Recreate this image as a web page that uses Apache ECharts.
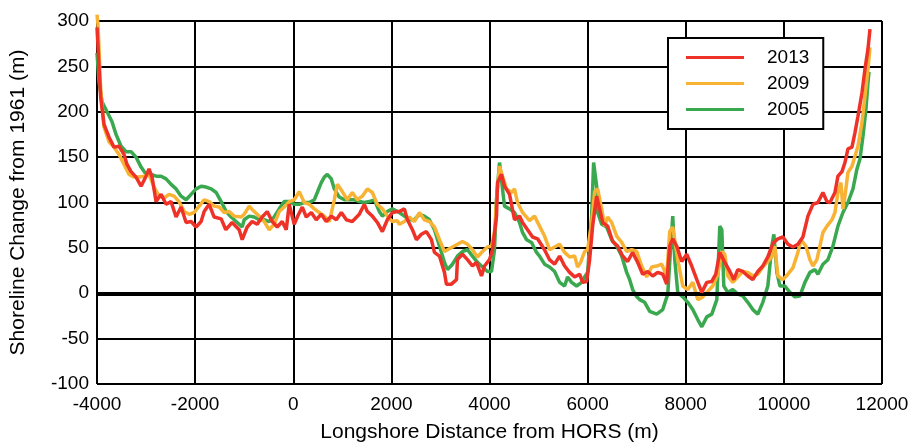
<!DOCTYPE html>
<html>
<head>
<meta charset="utf-8">
<script src="https://cdn.jsdelivr.net/npm/echarts@6/dist/echarts.min.js"></script>
<style>html,body{margin:0;padding:0;background:#fff;}#c{width:921px;height:448px;}</style>
</head>
<body>
<div id="c"></div>
<script>
var xTicks = [-4000, -2000, 0, 2000, 4000, 6000, 8000, 10000, 12000];
var yTicks = [-100, -50, 0, 50, 100, 150, 200, 250, 300];
var seriesNames = ['2013', '2009', '2005'];

var data2013 = [[-4000,293],[-3925,216],[-3857,186],[-3755,172],[-3653,161],[-3551,162],[-3449,153],[-3388,142],[-3306,134],[-3204,128],[-3102,118],[-3000,129],[-2939,137],[-2878,128],[-2796,101],[-2694,109],[-2592,98],[-2490,101],[-2388,84],[-2286,95],[-2184,78],[-2082,79],[-1980,73],[-1878,79],[-1816,90],[-1714,98],[-1612,84],[-1469,82],[-1374,70],[-1245,78],[-1102,70],[-1041,59],[-939,73],[-837,79],[-735,76],[-633,84],[-531,90],[-429,79],[-327,73],[-225,79],[-143,70],[-82,98],[20,76],[82,84],[184,95],[265,84],[367,89],[469,81],[571,87],[673,79],[776,85],[878,81],[980,89],[1082,81],[1204,79],[1347,87],[1449,98],[1510,90],[1612,85],[1714,78],[1816,68],[1918,81],[2020,89],[2122,90],[2163,90],[2265,93],[2327,81],[2429,70],[2510,59],[2612,65],[2714,68],[2816,59],[2878,45],[2980,41],[3082,23],[3122,10],[3224,10],[3327,15],[3347,37],[3449,43],[3551,37],[3653,30],[3735,34],[3837,19],[3898,30],[4000,37],[4061,48],[4143,85],[4163,122],[4245,131],[4306,118],[4408,109],[4510,81],[4612,85],[4673,78],[4776,70],[4878,62],[4980,60],[5020,62],[5122,48],[5224,37],[5327,32],[5429,41],[5531,30],[5633,23],[5735,18],[5837,21],[5898,12],[5980,13],[6041,37],[6102,74],[6184,107],[6245,93],[6306,78],[6408,74],[6510,57],[6612,52],[6714,41],[6816,35],[6918,45],[7020,34],[7122,21],[7224,24],[7327,19],[7429,23],[7531,21],[7612,10],[7673,52],[7735,60],[7816,52],[7918,35],[8020,43],[8122,30],[8225,15],[8327,1],[8429,12],[8531,13],[8612,21],[8694,45],[8796,34],[8898,24],[8980,15],[9061,26],[9163,24],[9265,19],[9367,15],[9469,24],[9571,30],[9673,40],[9776,55],[9878,60],[9980,62],[10082,54],[10184,51],[10286,54],[10388,62],[10490,85],[10592,98],[10694,100],[10796,111],[10878,101],[10939,100],[11041,111],[11102,129],[11184,134],[11245,144],[11306,159],[11388,161],[11449,177],[11510,195],[11592,221],[11653,247],[11714,269],[11755,291]];

var data2009 = [[-4000,307],[-3980,296],[-3925,225],[-3857,183],[-3755,167],[-3653,161],[-3551,153],[-3449,142],[-3347,131],[-3245,128],[-3143,128],[-3041,129],[-2939,131],[-2837,117],[-2735,107],[-2633,105],[-2531,109],[-2429,107],[-2327,101],[-2224,90],[-2122,87],[-2020,89],[-1918,96],[-1816,103],[-1714,101],[-1612,96],[-1510,95],[-1408,89],[-1306,90],[-1204,85],[-1061,84],[-1000,87],[-898,96],[-796,90],[-694,85],[-592,79],[-490,70],[-388,76],[-286,90],[-184,95],[-82,101],[20,103],[122,112],[224,100],[327,98],[429,93],[531,89],[633,85],[735,79],[837,103],[898,120],[1000,112],[1102,103],[1204,111],[1306,103],[1408,107],[1510,115],[1612,111],[1714,98],[1816,93],[1918,85],[2020,79],[2122,80],[2163,76],[2265,79],[2367,84],[2469,79],[2571,89],[2673,81],[2776,79],[2878,73],[2980,59],[3082,46],[3143,48],[3245,51],[3347,54],[3449,57],[3551,54],[3653,48],[3755,40],[3857,46],[3959,51],[4041,52],[4102,67],[4143,103],[4204,140],[4265,129],[4347,115],[4449,111],[4510,115],[4571,100],[4673,89],[4816,80],[4918,85],[5020,74],[5122,63],[5224,48],[5327,51],[5429,54],[5531,45],[5633,40],[5735,41],[5796,29],[5857,34],[5939,46],[6000,48],[6082,78],[6143,112],[6204,115],[6286,93],[6347,74],[6408,84],[6490,78],[6592,63],[6694,56],[6796,46],[6898,48],[7000,46],[7102,30],[7204,18],[7306,29],[7408,30],[7510,32],[7612,19],[7673,68],[7735,73],[7837,37],[7939,8],[8041,4],[8143,12],[8245,-7],[8347,-4],[8449,2],[8551,8],[8653,21],[8735,46],[8796,43],[8857,19],[8959,12],[9061,18],[9163,24],[9265,23],[9367,19],[9469,21],[9571,29],[9673,35],[9755,40],[9816,52],[9878,19],[9980,15],[10082,21],[10184,28],[10286,45],[10349,59],[10449,52],[10531,37],[10592,30],[10673,37],[10735,52],[10796,67],[10878,74],[10980,81],[11041,89],[11102,111],[11163,122],[11204,93],[11245,107],[11306,133],[11388,140],[11449,151],[11510,162],[11592,188],[11653,217],[11714,247],[11755,271]];

var data2005 = [[-4000,265],[-3959,233],[-3898,211],[-3796,200],[-3694,189],[-3612,175],[-3510,162],[-3408,156],[-3306,156],[-3204,150],[-3102,139],[-3000,131],[-2898,131],[-2796,129],[-2694,129],[-2592,126],[-2490,120],[-2388,115],[-2286,107],[-2184,103],[-2082,109],[-1980,115],[-1878,118],[-1776,117],[-1673,115],[-1571,111],[-1469,101],[-1367,90],[-1265,84],[-1143,78],[-1041,73],[-1000,81],[-898,85],[-796,84],[-694,81],[-592,81],[-490,79],[-388,84],[-286,93],[-184,101],[-82,101],[20,98],[122,98],[224,100],[327,100],[429,103],[490,111],[571,122],[633,128],[694,131],[776,126],[837,115],[939,106],[1041,103],[1143,103],[1245,103],[1347,101],[1449,100],[1551,101],[1653,103],[1755,90],[1816,85],[1918,90],[2020,93],[2122,90],[2163,89],[2265,85],[2367,81],[2469,81],[2571,87],[2673,85],[2776,81],[2878,70],[2980,52],[3082,34],[3143,26],[3245,32],[3347,41],[3449,46],[3551,48],[3653,41],[3755,34],[3857,29],[3959,24],[4041,24],[4102,48],[4143,103],[4204,144],[4265,115],[4306,96],[4408,93],[4510,89],[4612,78],[4673,67],[4755,59],[4857,56],[4959,45],[5020,41],[5122,32],[5224,29],[5327,24],[5429,12],[5531,8],[5592,18],[5673,12],[5776,8],[5878,12],[5939,18],[6000,23],[6082,85],[6122,144],[6184,118],[6204,89],[6286,76],[6388,73],[6490,59],[6592,52],[6694,41],[6796,23],[6857,15],[6918,4],[6990,-3],[7061,-7],[7163,-10],[7265,-20],[7408,-23],[7531,-18],[7633,-1],[7694,52],[7735,85],[7776,37],[7837,1],[7939,-4],[8041,-10],[8143,-18],[8245,-29],[8327,-37],[8429,-26],[8531,-23],[8633,-7],[8694,74],[8735,70],[8776,8],[8857,1],[8959,4],[9061,-1],[9163,-3],[9265,-10],[9367,-18],[9469,-23],[9571,-10],[9673,8],[9755,52],[9796,65],[9857,23],[9918,8],[10020,8],[10122,1],[10224,-4],[10327,-3],[10429,12],[10531,23],[10633,26],[10694,21],[10796,32],[10898,37],[11000,52],[11102,74],[11204,89],[11306,100],[11408,115],[11490,137],[11551,148],[11612,173],[11673,203],[11714,232],[11735,244]];

var colors = {'2013': '#ee3228', '2009': '#f8b234', '2005': '#3aa84f'};
var FONT = '"Liberation Sans", Arial, sans-serif';

var chart = echarts.init(document.getElementById('c'), null, {renderer: 'canvas'});
function mk(name, data, z) {
  return {
    name: name, type: 'line', data: data, symbol: 'none', z: z, clip: false,
    lineStyle: {color: colors[name], width: 3.5},
    itemStyle: {color: colors[name]}
  };
}
var series = [mk('2005', data2005, 3), mk('2009', data2009, 4), mk('2013', data2013, 5)];
series.push({
  type: 'line', data: [], z: 2, silent: true,
  markLine: {silent: true, symbol: 'none', label: {show: false},
    lineStyle: {color: '#000', width: 4, type: 'solid'},
    data: [{yAxis: 0}]}
});
function plain(v) { return String(v); }
chart.setOption({
  animation: false,
  backgroundColor: '#fff',
  grid: {left: 97, right: 39, top: 21, bottom: 63, containLabel: false},
  legend: {
    data: seriesNames, orient: 'vertical', left: 668, top: 38,
    padding: [10, 14, 10, 18], itemGap: 7,
    backgroundColor: '#fff', borderColor: '#000', borderWidth: 2,
    itemWidth: 58, itemHeight: 3, icon: 'rect',
    textStyle: {fontFamily: FONT, fontSize: 19, color: '#000', padding: [0, 0, 0, 18]}
  },
  xAxis: {
    type: 'value', min: xTicks[0], max: xTicks[xTicks.length - 1], interval: 2000,
    name: 'Longshore Distance from HORS (m)', nameLocation: 'middle', nameGap: 38,
    nameTextStyle: {fontFamily: FONT, fontSize: 21, color: '#000'},
    axisLine: {show: true, lineStyle: {color: '#000', width: 2}},
    axisTick: {show: false},
    axisLabel: {fontFamily: FONT, fontSize: 19, color: '#000', margin: 11, formatter: plain},
    splitLine: {show: true, lineStyle: {color: '#000', width: 2}}
  },
  yAxis: {
    type: 'value', min: yTicks[0], max: yTicks[yTicks.length - 1], interval: 50,
    name: 'Shoreline Change from 1961 (m)', nameLocation: 'middle', nameGap: 68,
    nameTextStyle: {fontFamily: FONT, fontSize: 21, color: '#000'},
    axisLine: {show: true, lineStyle: {color: '#000', width: 2}},
    axisTick: {show: false},
    axisLabel: {fontFamily: FONT, fontSize: 19, color: '#000', margin: 8, formatter: plain},
    splitLine: {show: true, lineStyle: {color: '#000', width: 2}}
  },
  series: series
});
</script>
</body>
</html>
